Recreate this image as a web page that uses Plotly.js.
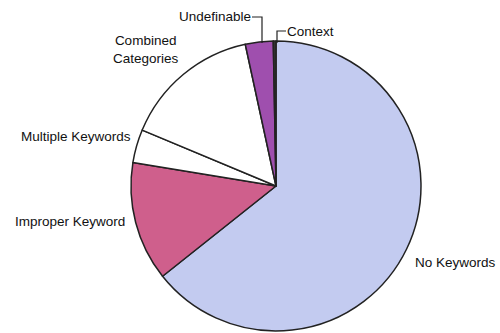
<!DOCTYPE html>
<html>
<head>
<meta charset="utf-8">
<script src="https://cdn.plot.ly/plotly-3.0.1.min.js"></script>
<style>html,body{margin:0;padding:0;background:#fff;}#chart{width:500px;height:333px;}</style>
</head>
<body>
<div id="chart"></div>
<script>
const categories = ["No Keywords", "Improper Keyword", "Multiple Keywords", "Combined Categories", "Undefinable", "Context"];
const values = [64.3, 13.3, 3.7, 15.3, 3.1, 0.3];
const colors = ["#c3cbf0", "#cf5f8c", "#ffffff", "#ffffff", "#9f4fae", "#333333"];

const font = {family: "Liberation Sans, Arial, sans-serif", size: 13.5, color: "#111"};

const trace = {
  type: "pie",
  labels: categories,
  values: values,
  sort: false,
  direction: "clockwise",
  rotation: 0,
  textinfo: "none",
  hoverinfo: "label+percent",
  marker: {colors: colors, line: {color: "#222", width: 1.5}},
  domain: {x: [0.262, 0.842], y: [0.006, 0.877]},
  showlegend: false
};

const annotations = [
  {text: "No Keywords", x: 413/500, y: 1 - 262/333, xanchor: "left", yanchor: "middle"},
  {text: "Improper Keyword", x: 127/500, y: 1 - 221/333, xanchor: "right", yanchor: "middle"},
  {text: "Multiple Keywords", x: 133/500, y: 1 - 137/333, xanchor: "right", yanchor: "middle"},
  {text: "Combined<br>Categories", x: 146/500, y: 1 - 50/333, xanchor: "center", yanchor: "middle"},
  {text: "Undefinable", x: 253/500, y: 1 - 16/333, xanchor: "right", yanchor: "middle"},
  {text: "Context", x: 285/500, y: 1 - 31/333, xanchor: "left", yanchor: "middle"}
].map(a => Object.assign({xref: "paper", yref: "paper", showarrow: false, font: font, align: "center"}, a));

function px(x, y) { return (x / 500).toFixed(4) + "," + (1 - y / 333).toFixed(4); }
const shapes = [
  {type: "path", path: "M" + px(252, 17) + " L" + px(262, 17) + " L" + px(262, 43)},
  {type: "path", path: "M" + px(286, 31) + " L" + px(277, 31) + " L" + px(277, 43)}
].map(s => Object.assign({xref: "paper", yref: "paper", line: {color: "#222", width: 1.2}}, s));

const layout = {
  width: 500, height: 333,
  margin: {l: 0, r: 0, t: 0, b: 0},
  paper_bgcolor: "#ffffff",
  annotations: annotations,
  shapes: shapes
};

Plotly.newPlot("chart", [trace], layout, {displayModeBar: false, staticPlot: true});
</script>
</body>
</html>
